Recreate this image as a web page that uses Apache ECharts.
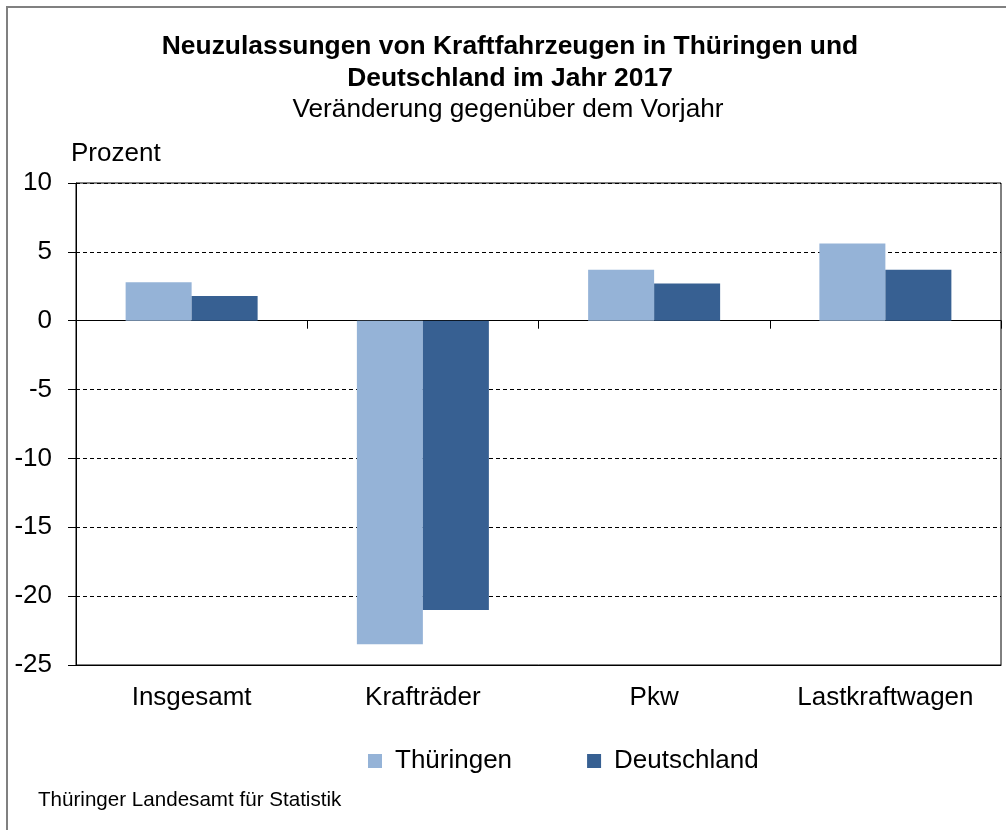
<!DOCTYPE html>
<html>
<head>
<meta charset="utf-8">
<script src="https://cdn.jsdelivr.net/npm/echarts@6/dist/echarts.min.js"></script>
<style>
html,body{margin:0;padding:0;background:#fff;}
#chart{width:1006px;height:830px;}
</style>
</head>
<body>
<div id="chart"></div>
<script>
var categories = ['Insgesamt', 'Krafträder', 'Pkw', 'Lastkraftwagen'];
var seriesNames = ['Thüringen', 'Deutschland'];
var thueringen = [2.8, -23.5, 3.7, 5.6];
var deutschland = [1.8, -21.0, 2.7, 3.7];
var yMin = -25, yMax = 10, yStep = 5;
var titleLine1 = 'Neuzulassungen von Kraftfahrzeugen in Thüringen und';
var titleLine2 = 'Deutschland im Jahr 2017';
var subTitle = 'Veränderung gegenüber dem Vorjahr';
var unitLabel = 'Prozent';
var sourceLabel = 'Thüringer Landesamt für Statistik';

var FONT = "'Liberation Sans', Arial, sans-serif";
var chart = echarts.init(document.getElementById('chart'), null, {renderer: 'canvas'});
chart.setOption({
  backgroundColor: '#ffffff',
  animation: false,
  textStyle: {fontFamily: FONT, color: '#000'},
  title: [
    {text: titleLine1 + '\n' + titleLine2, left: 510, textAlign: 'center', top: 31, padding: 0,
     textStyle: {fontFamily: FONT, fontSize: 26.4, fontWeight: 'bold', lineHeight: 31.5, color: '#000'}},
    {text: subTitle, left: 508, textAlign: 'center', top: 94, padding: 0,
     textStyle: {fontFamily: FONT, fontSize: 26.2, fontWeight: 'normal', lineHeight: 31, color: '#000'}},
    {text: unitLabel, left: 71, top: 138, padding: 0,
     textStyle: {fontFamily: FONT, fontSize: 26, fontWeight: 'normal', lineHeight: 31, color: '#000'}},
    {text: sourceLabel, left: 38, top: 788, padding: 0,
     textStyle: {fontFamily: FONT, fontSize: 20.6, fontWeight: 'normal', lineHeight: 25, color: '#000'}}
  ],
  legend: {
    data: seriesNames,
    left: 368, top: 746, padding: 0,
    icon: 'rect', itemWidth: 14, itemHeight: 14, itemGap: 75,
    textStyle: {fontFamily: FONT, fontSize: 26, lineHeight: 30, color: '#000', padding: [0, 0, 0, 8]}
  },
  grid: {left: 76, right: 5, top: 183, height: 482, show: true, borderColor: '#000', borderWidth: 1, backgroundColor: 'transparent'},
  xAxis: [
    {type: 'category', data: categories, position: 'bottom',
     axisLine: {show: true, onZero: false, lineStyle: {color: '#000', width: 1}},
     axisTick: {show: false},
     axisLabel: {fontFamily: FONT, fontSize: 26, lineHeight: 30, color: '#000', margin: 18}},
    {type: 'category', data: categories, position: 'top',
     axisLine: {show: true, onZero: true, lineStyle: {color: '#000', width: 1}},
     axisTick: {show: true, inside: true, length: 8, lineStyle: {color: '#000'}},
     axisLabel: {show: false}}
  ],
  yAxis: {
    type: 'value', min: yMin, max: yMax, interval: yStep,
    axisLine: {show: true, lineStyle: {color: '#000', width: 1}},
    axisTick: {show: true, length: 8, lineStyle: {color: '#000'}},
    axisLabel: {fontFamily: FONT, fontSize: 26, color: '#000', margin: 24},
    splitLine: {show: true, lineStyle: {color: '#000', width: 1, type: [4, 3]}}
  },
  series: [
    {name: seriesNames[0], type: 'bar', xAxisIndex: 0, data: thueringen, barWidth: 66, barGap: '0%',
     itemStyle: {color: '#95B3D7'}},
    {name: seriesNames[1], type: 'bar', xAxisIndex: 0, data: deutschland, barWidth: 66, barGap: '0%',
     itemStyle: {color: '#376092'}}
  ],
  graphic: [
    {type: 'rect', silent: true, z: 100,
     shape: {x: 7, y: 7, width: 1100, height: 900},
     style: {fill: 'none', stroke: '#808080', lineWidth: 2}}
  ]
});
</script>
</body>
</html>
